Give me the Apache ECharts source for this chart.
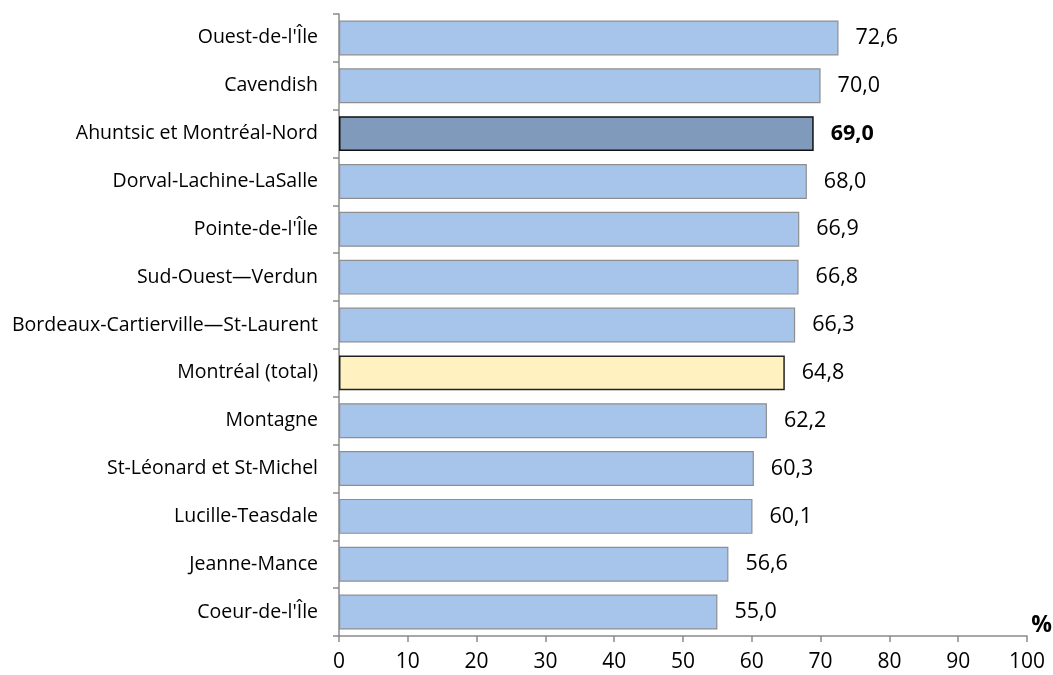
<!DOCTYPE html>
<html><head><meta charset="utf-8">
<script src="https://cdn.jsdelivr.net/npm/echarts@6/dist/echarts.min.js"></script>
<style>html,body{margin:0;padding:0;background:#fff}#c{width:1053px;height:675px}</style>
</head><body><div id="c"></div>
<script>
const categories = ["Ouest-de-l'Île","Cavendish","Ahuntsic et Montréal-Nord","Dorval-Lachine-LaSalle","Pointe-de-l'Île","Sud-Ouest—Verdun","Bordeaux-Cartierville—St-Laurent","Montréal (total)","Montagne","St-Léonard et St-Michel","Lucille-Teasdale","Jeanne-Mance","Coeur-de-l'Île"];
const values = [72.6,70.0,69.0,68.0,66.9,66.8,66.3,64.8,62.2,60.3,60.1,56.6,55.0];
const highlight = "Ahuntsic et Montréal-Nord";
const total = "Montréal (total)";
const xTicks = [0,10,20,30,40,50,60,70,80,90,100];

const font = "'Open Sans', 'Noto Sans', sans-serif";
const data = values.map((v,i)=>{
  const c = categories[i];
  let style = {color:'#a7c5eb', borderColor:'#8e8e8e', borderWidth:1.2};
  let lbl = {};
  if (c===highlight){ style={color:'#7f9aba', borderColor:'#111', borderWidth:1.5}; lbl={fontWeight:'bold'}; }
  if (c===total){ style={color:'#fff2c0', borderColor:'#222', borderWidth:1.5}; }
  return {value:v, itemStyle:style, label:lbl};
});
const chart = echarts.init(document.getElementById('c'));
chart.setOption({
  animation:false,
  grid:{left:339, right:26, top:14, bottom:39, containLabel:false},
  xAxis:{type:'value', min:0, max:100, interval:10,
    axisLine:{show:true, lineStyle:{color:'#8a8a8a', width:1.5}},
    axisTick:{show:true, length:6, lineStyle:{color:'#8a8a8a', width:1.5}},
    splitLine:{show:false},
    axisLabel:{color:'#000', fontSize:21, fontFamily:font, margin:16,
      formatter:v=>xTicks.includes(v)?String(v):''}},
  yAxis:{type:'category', data:categories, inverse:true,
    axisLine:{show:true, lineStyle:{color:'#8a8a8a', width:1.5}},
    axisTick:{show:true, length:6, alignWithLabel:false, lineStyle:{color:'#8a8a8a', width:1.5}},
    axisLabel:{color:'#000', fontSize:19.5, fontFamily:font, margin:21}},
  graphic:[{type:'text', right:1, top:614, style:{text:'%', font:"bold 23px "+font, fill:'#000'}}],
  series:[{type:'bar', data:data, barCategoryGap:'27%',
    label:{show:true, position:'right', distance:17, color:'#000', fontSize:21.5, fontFamily:font,
      formatter:p=>p.value.toFixed(1).replace('.',',')}}]
});
</script></body></html>
